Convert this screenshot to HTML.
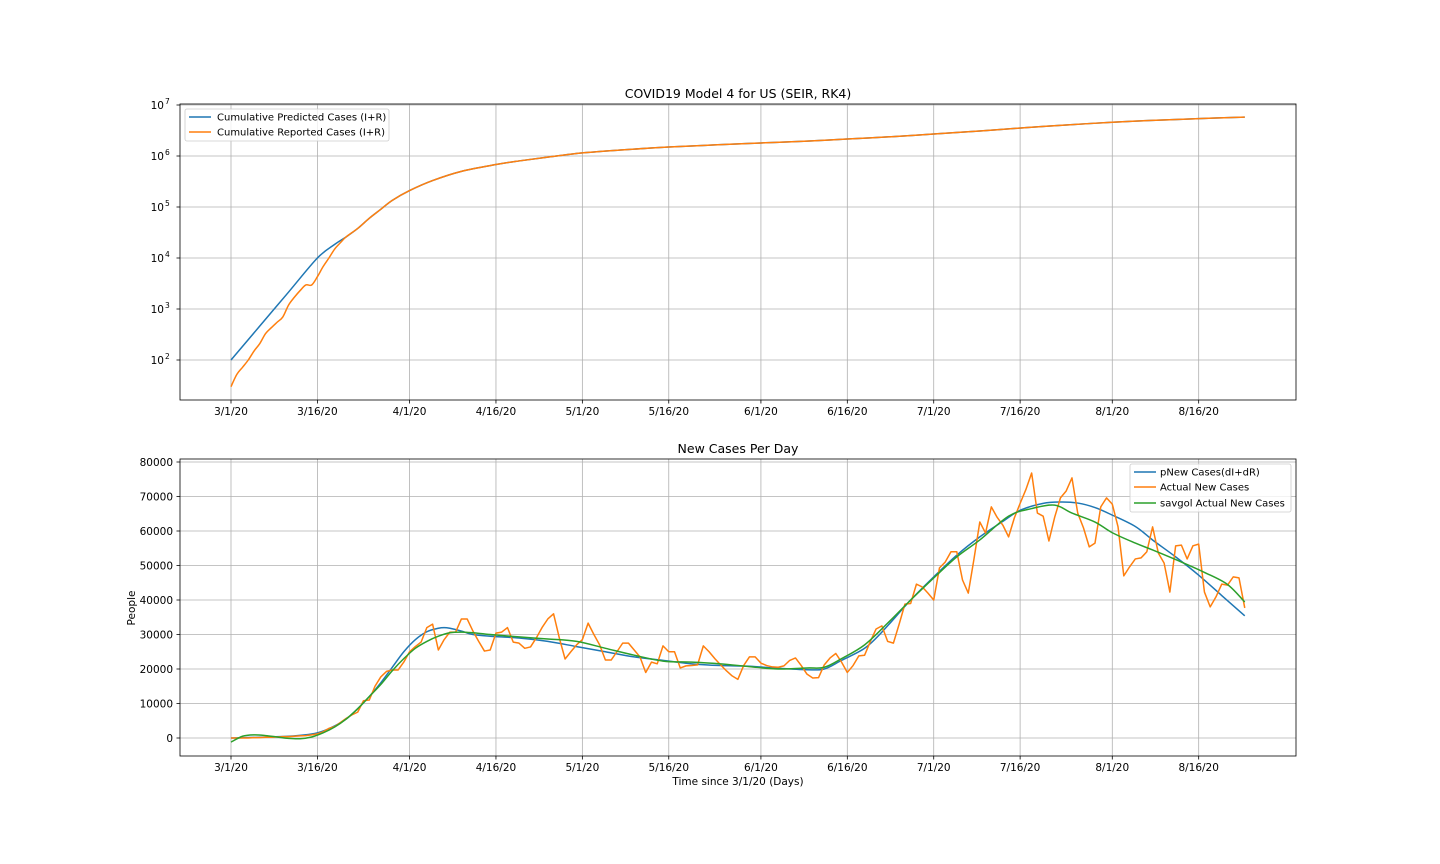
<!DOCTYPE html>
<html><head><meta charset="utf-8"><style>
html,body{margin:0;padding:0;background:#fff}
svg{display:block;font-family:"DejaVu Sans","Liberation Sans",sans-serif}
</style></head><body>
<svg id="chart" width="1440" height="864" viewBox="0 0 1440 864">
<rect x="0" y="0" width="1440" height="864" fill="#fff"/>
<g id="topchart"></g>
<g id="botchart"></g>
</svg>
<script>
// ---- data ----
const tickDates = ["3/1/20","3/16/20","4/1/20","4/16/20","5/1/20","5/16/20","6/1/20","6/16/20","7/1/20","7/16/20","8/1/20","8/16/20"];
const tickDays = [0,15,31,46,61,76,92,107,122,137,153,168];
const cumPredDays = [0,5,10,15,18,20,22,24,26,28,31,35,40,46,50,55,61,68,76,84,92,100,107,115,122,130,138,145,153,160,168,176];
const cumPredVals = [100,464,2150,10000,18500,26000,38000,60000,90000,135000,210000,330000,500000,680000,800000,950000,1150000,1320000,1500000,1650000,1800000,1960000,2150000,2400000,2700000,3100000,3600000,4050000,4600000,5000000,5400000,5800000];
const cumRepDays = [0,1,2,3,4,5,6,7,8,9,10,11,12,13,14,15,16,17,18,19,20,22,24,26,28,31,35,40,46,50,55,61,68,76,84,92,100,107,115,122,130,138,145,153,160,168,176];
const cumRepVals = [30,52,72,100,150,210,330,430,550,700,1200,1700,2300,2960,2960,4300,6800,10000,15000,20000,26000,38000,60000,90000,135000,210000,330000,500000,680000,800000,950000,1150000,1320000,1500000,1650000,1800000,1960000,2150000,2400000,2700000,3100000,3600000,4050000,4600000,5000000,5400000,5800000];
const newActual = [0,0,0,0,0.1,0.1,0.2,0.2,0.3,0.4,0.4,0.5,0.6,0.7,0.9,
1.2,1.8,2.8,3.3,4.5,5.7,6.7,7.5,10.8,11,15,17.7,19.3,19.7,19.7,22,25,26.5,27.8,32,33,25.5,28.5,30.7,30.7,34.5,34.5,31,28,25.2,25.5,30.4,30.7,32,27.8,27.5,26,26.4,29,32,34.5,36,29,22.9,25,27,28.5,33.3,30,27,22.6,22.6,25,27.5,27.5,25.5,23.5,19,22,21.5,26.7,25,25,20.3,20.9,21,21.2,26.7,25,23,21.2,19.5,18,17,21,23.5,23.5,21.7,21,20.6,20.5,20.9,22.5,23.2,21,18.5,17.4,17.5,21.2,23.2,24.5,22,19,21,23.8,24,28,31.6,32.5,28,27.5,33,38.8,39,44.6,43.8,42,40,49.3,51,54,54,45.8,42,52,62.6,59.4,67,64,61.7,58.3,63.8,68,72,76.8,65.2,64.3,57.1,64,69.6,71.6,75.4,65.2,60.9,55.4,56.5,67,69.6,67.8,61.2,47,49.6,51.9,52.2,54,61.2,53.6,50.7,42.3,55.7,55.9,51.9,55.7,56.2,42.3,38,40.9,44.6,44.3,46.7,46.4,37.7];
const predNewDays = [0,10,15,18,20,22,24,26,28,30,32,34,36,37,38,40,42,45,50,55,60,65,70,75,80,85,90,95,100,103,106,110,113,118,122,126,130,134,137,141,144,147,150,153,157,160,164,168,172,176];
const predNewVals = [0,0.5,1.5,3.5,5.5,8.5,12,16,20.5,25,28.5,30.8,31.8,32,31.8,31,30,29.5,29,28,26.5,25,23.5,22.5,21.5,21,20.8,20.2,19.8,20,22.5,26,30.7,40,46.7,53,58.3,62.8,66,68,68.4,68.1,66.8,64.6,61.3,57.4,52.5,47.2,41.3,35.4];
const savDays = [0,2,4,6,8,10,12,14,16,18,20,22,24,26,28,30,32,34,36,38,40,42,45,50,55,60,65,70,75,80,85,90,95,100,103,106,110,114,118,122,126,130,135,139,143,146,150,153,157,160,165,169,173,176];
const savVals = [-1.2,0.5,0.9,0.7,0.3,-0.1,-0.2,0.3,1.5,3.2,5.5,8.5,12,15.5,19.5,23,26,28,29.5,30.5,30.7,30.5,30,29.3,28.7,28,26,24,22.3,22,21.5,20.7,20,20.3,20.5,23,27,33.3,40,46.4,52.5,57.4,64.3,66.5,67.5,65.2,62.6,59.5,56.5,54.5,51,48,44.5,39.4];
const newTicks = [0,10000,20000,30000,40000,50000,60000,70000,80000];
const logTicks = [2,3,4,5,6,7];

// ---- scales ----
const X0=180,X1=1296;
const xs = d => 231 + d*5.76;
const yLog = v => 360 - (Math.log10(v)-2)*51;
const yNew = v => 738 - v*0.00345;
const NS="http://www.w3.org/2000/svg";
function mk(tag, attrs, parent){const e=document.createElementNS(NS,tag);for(const k in attrs)e.setAttribute(k,attrs[k]);parent.appendChild(e);return e;}
function smooth(pts){let d=`M${pts[0][0].toFixed(2)},${pts[0][1].toFixed(2)}`;
 for(let i=0;i<pts.length-1;i++){const p0=pts[Math.max(0,i-1)],p1=pts[i],p2=pts[i+1],p3=pts[Math.min(pts.length-1,i+2)];
 const c1=[p1[0]+(p2[0]-p0[0])/6,p1[1]+(p2[1]-p0[1])/6],c2=[p2[0]-(p3[0]-p1[0])/6,p2[1]-(p3[1]-p1[1])/6];
 d+=` C${c1[0].toFixed(2)},${c1[1].toFixed(2)} ${c2[0].toFixed(2)},${c2[1].toFixed(2)} ${p2[0].toFixed(2)},${p2[1].toFixed(2)}`;}return d;}
function poly(pts){return pts.map((p,i)=>(i?'L':'M')+p[0].toFixed(2)+','+p[1].toFixed(2)).join(' ');}

function axesFrame(g, yT, yB, title, titleY){
  tickDays.forEach((d,i)=>{
    const x=xs(d);
    const gl=mk('line',{x1:x,x2:x,y1:yT,y2:yB,stroke:'#b0b0b0','stroke-width':0.8},g);
    
    
    mk('line',{x1:x,x2:x,y1:yB,y2:yB+3.5,stroke:'#000','stroke-width':0.8},g);
    const t=mk('text',{x:x,y:yB+15,'font-size':10.5,'text-anchor':'middle',fill:'#000'},g);
    t.textContent=tickDates[i];
    
    
  });
  const tt=mk('text',{x:738,y:titleY,'font-size':12.5,'text-anchor':'middle',fill:'#000'},g);
  tt.textContent=title;
  
  
}

// ---- top chart ----
const gTop=document.getElementById('topchart');
const clipT=mk('clipPath',{id:'ct'},gTop);mk('rect',{x:X0,y:104,width:X1-X0,height:296},clipT);
axesFrame(gTop,104,400,'COVID19 Model 4 for US (SEIR, RK4)',98);
logTicks.forEach(p=>{
  const y=yLog(Math.pow(10,p));
  const gl=mk('line',{x1:X0,x2:X1,y1:y,y2:y,stroke:'#b0b0b0','stroke-width':0.8},gTop);
  
  
  mk('line',{x1:X0-3.5,x2:X0,y1:y,y2:y,stroke:'#000','stroke-width':0.8},gTop);
  const t=mk('text',{x:164,y:y+4,'font-size':10.5,'text-anchor':'end',fill:'#000'},gTop);
  
  
  t.textContent='10';
  const s=mk('text',{x:165,y:y-1,'font-size':7.5,fill:'#000'},gTop);
  s.textContent=String(p);
  
  
});
const lb=mk('path',{d:smooth(cumPredDays.map((d,i)=>[xs(d),yLog(cumPredVals[i])])),fill:'none',stroke:'#1f77b4','stroke-width':1.5,'clip-path':'url(#ct)'},gTop);


const lo=mk('path',{d:smooth(cumRepDays.map((d,i)=>[xs(d),yLog(cumRepVals[i])])),fill:'none',stroke:'#ff7f0e','stroke-width':1.5,'clip-path':'url(#ct)'},gTop);


mk('rect',{x:X0,y:104,width:X1-X0,height:296,fill:'none',stroke:'#000','stroke-width':0.8},gTop);
const lgT=mk('g',{},gTop);


mk('rect',{x:185,y:109,width:204,height:32,rx:2,fill:'#fff','fill-opacity':0.8,stroke:'#ccc','stroke-width':0.8},lgT);
[['Cumulative Predicted Cases (I+R)','#1f77b4',117],['Cumulative Reported Cases (I+R)','#ff7f0e',132]].forEach(e=>{
  mk('line',{x1:189,x2:211,y1:e[2],y2:e[2],stroke:e[1],'stroke-width':1.5},lgT);
  const t=mk('text',{x:217,y:e[2]+3.7,'font-size':10,fill:'#000'},lgT);t.textContent=e[0];
  
  
});

// ---- bottom chart ----
const gBot=document.getElementById('botchart');
const clipB=mk('clipPath',{id:'cb'},gBot);mk('rect',{x:X0,y:459,width:X1-X0,height:297},clipB);
axesFrame(gBot,459,756,'New Cases Per Day',453);
newTicks.forEach(v=>{
  const y=yNew(v);
  const gl=mk('line',{x1:X0,x2:X1,y1:y,y2:y,stroke:'#b0b0b0','stroke-width':0.8},gBot);
  
  
  mk('line',{x1:X0-3.5,x2:X0,y1:y,y2:y,stroke:'#000','stroke-width':0.8},gBot);
  const t=mk('text',{x:173,y:y+4,'font-size':10.5,'text-anchor':'end',fill:'#000'},gBot);
  t.textContent=String(v);
  
  
});
const bl=mk('path',{d:smooth(predNewDays.map((d,i)=>[xs(d),yNew(predNewVals[i]*1000)])),fill:'none',stroke:'#1f77b4','stroke-width':1.5,'clip-path':'url(#cb)'},gBot);


const ol=mk('path',{d:poly(newActual.map((v,i)=>[xs(i),yNew(v*1000)])),fill:'none',stroke:'#ff7f0e','stroke-width':1.5,'stroke-linejoin':'round','clip-path':'url(#cb)'},gBot);


const gl2=mk('path',{d:smooth(savDays.map((d,i)=>[xs(d),yNew(savVals[i]*1000)])),fill:'none',stroke:'#2ca02c','stroke-width':1.5,'clip-path':'url(#cb)'},gBot);


mk('rect',{x:X0,y:459,width:X1-X0,height:297,fill:'none',stroke:'#000','stroke-width':0.8},gBot);
const xl=mk('text',{x:738,y:785,'font-size':10.5,'text-anchor':'middle',fill:'#000'},gBot);
xl.textContent='Time since 3/1/20 (Days)';


const yl=mk('text',{x:0,y:0,'font-size':10.5,'text-anchor':'middle',fill:'#000',transform:'translate(135,608) rotate(-90)'},gBot);
yl.textContent='People';


const lgB=mk('g',{},gBot);


mk('rect',{x:1130,y:464,width:161,height:48,rx:2,fill:'#fff','fill-opacity':0.8,stroke:'#ccc','stroke-width':0.8},lgB);
[['pNew Cases(dI+dR)','#1f77b4',472],['Actual New Cases','#ff7f0e',487],['savgol Actual New Cases','#2ca02c',503]].forEach(e=>{
  mk('line',{x1:1134,x2:1156,y1:e[2],y2:e[2],stroke:e[1],'stroke-width':1.5},lgB);
  const t=mk('text',{x:1160,y:e[2]+3.7,'font-size':10,fill:'#000'},lgB);t.textContent=e[0];
  
  
});
</script>
</body></html>
